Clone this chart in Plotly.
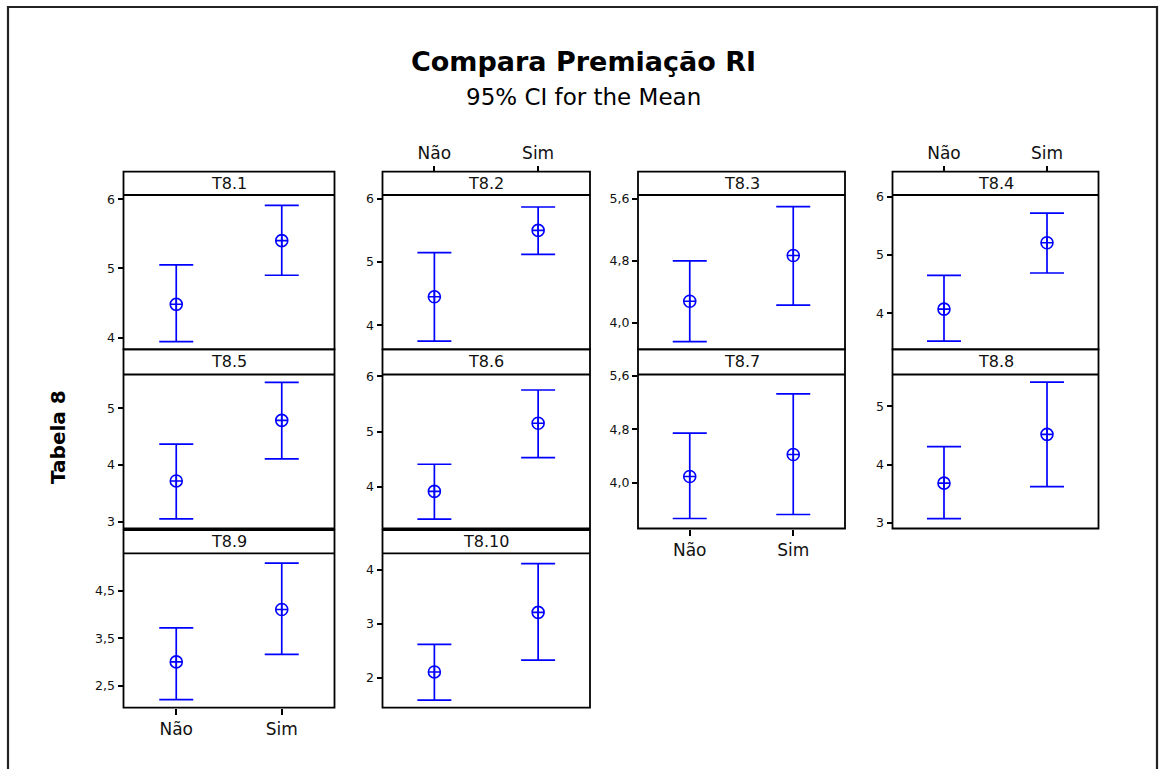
import plotly.graph_objects as go

W, H = 1165, 769

# ---------------- data ----------------
panels = ["T8.1", "T8.2", "T8.3", "T8.4", "T8.5", "T8.6", "T8.7", "T8.8", "T8.9", "T8.10"]
groups = ["Não", "Sim"]

mean_nao = [4.48, 4.45, 4.28, 4.07, 3.72, 3.92, 4.09, 3.68, 3.00, 2.11]
lower_nao = [3.94, 3.75, 3.76, 3.52, 3.05, 3.42, 3.46, 3.07, 2.20, 1.59]
upper_nao = [5.05, 5.15, 4.80, 4.65, 4.37, 4.41, 4.74, 4.31, 3.72, 2.62]

mean_sim = [5.40, 5.50, 4.87, 5.21, 4.79, 5.15, 4.42, 4.52, 4.11, 3.21]
lower_sim = [4.90, 5.12, 4.23, 4.69, 4.11, 4.53, 3.52, 3.62, 3.16, 2.33]
upper_sim = [5.91, 5.87, 5.50, 5.72, 5.46, 5.75, 5.33, 5.42, 5.09, 4.11]

y_tickvals = [
    [4, 5, 6], [4, 5, 6], [4.0, 4.8, 5.6], [4, 5, 6],
    [3, 4, 5], [4, 5, 6], [4.0, 4.8, 5.6], [3, 4, 5],
    [2.5, 3.5, 4.5], [2, 3, 4],
]
y_ticktext = [
    ["4", "5", "6"], ["4", "5", "6"], ["4,0", "4,8", "5,6"], ["4", "5", "6"],
    ["3", "4", "5"], ["4", "5", "6"], ["4,0", "4,8", "5,6"], ["3", "4", "5"],
    ["2,5", "3,5", "4,5"], ["2", "3", "4"],
]
y_ranges = [
    [3.83, 6.06], [3.62, 6.06], [3.66, 5.65], [3.38, 6.03],
    [2.88, 5.60], [3.25, 6.03], [3.31, 5.62], [2.90, 5.55],
    [2.03, 5.30], [1.45, 4.30],
]

title = "Compara Premiação RI"
subtitle = "95% CI for the Mean"
ylabel = "Tabela 8"

# ---------------- layout geometry (pixels) ----------------
col_px = [(123.5, 334.5), (382.5, 590.0), (638.0, 845.0), (892.5, 1098.5)]
# (strip top, plot top, plot bottom)
row_px = [(171.7, 195.0, 349.3), (349.3, 374.5, 528.5), (530.0, 553.3, 707.7)]

BLUE = "#0000FF"
FONT = "DejaVu Sans"


def px_x(x):
    return x / W


def px_y(y):
    return 1 - y / H


fig = go.Figure()
shapes = []
annotations = []

top_label_panels = {1, 3}      # T8.2, T8.4 -> labels on top
bottom_label_panels = {6, 8}   # T8.7, T8.9 -> labels on bottom

for i, name in enumerate(panels):
    r, c = divmod(i, 4)
    x0, x1 = col_px[c]
    st, pt, pb = row_px[r]
    k = i + 1
    xa = "x" if k == 1 else f"x{k}"
    ya = "y" if k == 1 else f"y{k}"
    xkey = "xaxis" if k == 1 else f"xaxis{k}"
    ykey = "yaxis" if k == 1 else f"yaxis{k}"

    means = [mean_nao[i], mean_sim[i]]
    up = [upper_nao[i] - mean_nao[i], upper_sim[i] - mean_sim[i]]
    dn = [mean_nao[i] - lower_nao[i], mean_sim[i] - lower_sim[i]]

    fig.add_trace(go.Scatter(
        x=[0, 1], y=means, mode="markers", xaxis=xa, yaxis=ya,
        marker=dict(symbol="circle-cross-open", size=12, color=BLUE,
                    line=dict(color=BLUE, width=1.6)),
        error_y=dict(type="data", symmetric=False, array=up, arrayminus=dn,
                     color=BLUE, thickness=1.7, width=17),
        showlegend=False, hoverinfo="skip",
    ))

    xaxis = dict(
        domain=[px_x(x0), px_x(x1)], range=[-0.5, 1.5],
        tickvals=[0, 1], ticktext=groups, showgrid=False, zeroline=False,
        showline=False, fixedrange=True, automargin=False,
        tickfont=dict(family=FONT, size=17, color="#111"),
    )
    if i in top_label_panels:
        xaxis.update(anchor="free", position=px_y(st), side="top",
                     ticks="outside", ticklen=6, tickwidth=1.6, tickcolor="black",
                     showticklabels=True)
    elif i in bottom_label_panels:
        xaxis.update(anchor=ya, side="bottom", ticks="outside", ticklen=6,
                     tickwidth=1.6, tickcolor="black", showticklabels=True)
    else:
        xaxis.update(anchor=ya, ticks="", showticklabels=False)
    fig.layout[xkey] = xaxis

    fig.layout[ykey] = dict(
        domain=[px_y(pb), px_y(pt)], range=y_ranges[i], anchor=xa,
        tickvals=y_tickvals[i], ticktext=y_ticktext[i],
        ticks="outside", ticklen=5, tickwidth=1.6, tickcolor="black",
        showgrid=False, zeroline=False, showline=False, fixedrange=True,
        automargin=False,
        tickfont=dict(family=FONT, size=12.5, color="#111"),
    )

    # frame for plot + strip
    shapes.append(dict(type="rect", xref="paper", yref="paper",
                       x0=px_x(x0), x1=px_x(x1), y0=px_y(pb), y1=px_y(st),
                       line=dict(color="black", width=1.8)))
    shapes.append(dict(type="line", xref="paper", yref="paper",
                       x0=px_x(x0), x1=px_x(x1), y0=px_y(pt), y1=px_y(pt),
                       line=dict(color="black", width=1.8)))
    annotations.append(dict(text=name, xref="paper", yref="paper",
                            x=px_x((x0 + x1) / 2), y=px_y((st + pt) / 2),
                            xanchor="center", yanchor="middle", showarrow=False,
                            font=dict(family=FONT, size=16, color="#111")))

# outer border
shapes.append(dict(type="rect", xref="paper", yref="paper",
                   x0=px_x(8), x1=px_x(1157), y0=px_y(790), y1=px_y(7),
                   line=dict(color="#222", width=2.2)))

annotations.append(dict(text=f"<b>{title}</b>", xref="paper", yref="paper",
                        x=px_x(583), y=px_y(62), xanchor="center", yanchor="middle",
                        showarrow=False, font=dict(family=FONT, size=27, color="black")))
annotations.append(dict(text=subtitle, xref="paper", yref="paper",
                        x=px_x(583), y=px_y(97), xanchor="center", yanchor="middle",
                        showarrow=False, font=dict(family=FONT, size=23, color="black")))
annotations.append(dict(text=f"<b>{ylabel}</b>", xref="paper", yref="paper",
                        x=px_x(58), y=px_y(437), xanchor="center", yanchor="middle",
                        textangle=-90, showarrow=False,
                        font=dict(family=FONT, size=20, color="black")))

fig.update_layout(
    width=W, height=H, margin=dict(l=0, r=0, t=0, b=0, pad=0),
    autosize=False,
    paper_bgcolor="white", plot_bgcolor="white",
    shapes=shapes, annotations=annotations, showlegend=False,
)

fig.write_html("out.html", config={"displayModeBar": False})
